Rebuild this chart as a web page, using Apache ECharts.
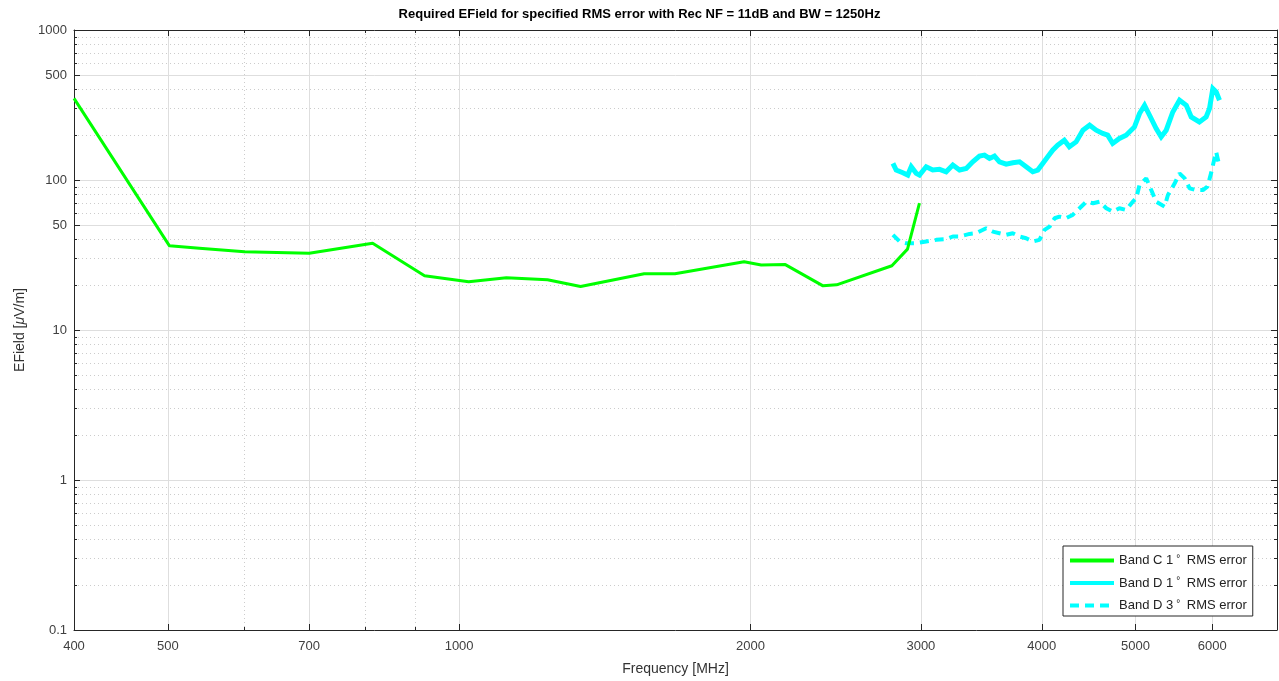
<!DOCTYPE html>
<html><head><meta charset="utf-8">
<script src="https://cdn.jsdelivr.net/npm/echarts@6/dist/echarts.min.js"></script>
<style>html,body{margin:0;padding:0;background:#fff}#c{width:1279px;height:681px}</style>
</head><body><div id="c"></div>
<script>
// ---- data ----
const freqC = [400, 502, 539, 600, 700, 814, 921, 1023, 1119, 1234, 1335, 1553, 1671, 1970, 2052, 2173, 2377, 2455, 2800, 2906, 2990];
const efieldC = [350, 36.4, 35.1, 33.2, 32.5, 37.9, 23.0, 21.0, 22.3, 21.6, 19.5, 23.7, 23.7, 28.5, 27.1, 27.3, 19.7, 20.0, 26.8, 34.6, 70];

const freqD1 = [2807,2829,2874,2908,2932,2967,2990,3038,3086,3136,3186,3237,3289,3342,3394,3449,3490,3532,3574,3617,3675,3733,3794,3854,3915,3962,4009,4057,4105,4154,4220,4271,4340,4411,4482,4553,4624,4679,4735,4811,4889,4987,5047,5108,5169,5251,5314,5378,5463,5551,5641,5708,5820,5914,5961,6009,6057,6105];
const efieldD1 = [129,116.5,111.7,107.9,122.5,110.7,107.9,122.5,116.5,117.7,113.4,125.7,116.5,119.5,132.2,144.2,146.5,139.3,144.2,132.2,127.6,130.2,132.2,122.5,113.4,116.5,129,142.7,158.1,170.7,184.2,166.3,179.5,214.8,231.8,214.8,204.2,199,175.2,189.1,199,225.9,277.3,314.8,270.2,220.4,193.9,214.8,284.2,340,314.8,263.2,243.8,263.2,299.3,406.6,386,340];

const freqD3 = [2807,2852,2897,2967,3038,3112,3186,3237,3289,3368,3421,3504,3560,3617,3675,3733,3794,3854,3915,3978,4026,4075,4124,4171,4236,4305,4376,4447,4519,4590,4663,4735,4811,4889,4967,5008,5047,5128,5190,5251,5357,5400,5488,5551,5620,5686,5770,5868,5932,5983,6033,6057,6105];
const efieldD3 = [43.1,38.9,37.9,37.9,38.9,39.9,40.3,42,42,43.7,44.2,47.7,45.3,44.2,43.1,44.2,42,40.9,38.9,39.9,46.5,48.9,55.6,57,55.6,58.5,64.8,71.7,70,71.7,64.8,61.5,64.8,63.1,71.7,75.5,92.6,102.6,85.7,71.7,66.4,79.4,95,110.7,102.6,88,85.7,85.7,90.2,110.7,139.3,154,122.5];

const xMajorTicks = [400, 500, 700, 1000, 2000, 3000, 4000, 5000, 6000];
const xMinorTicks = [600, 800, 900];
const yMajorTicks = [0.1, 1, 10, 50, 100, 500, 1000];
const yMinorTicks = [0.2,0.3,0.4,0.5,0.6,0.7,0.8,0.9,2,3,4,5,6,7,8,9,20,30,40,60,70,80,90,200,300,400,600,700,800,900];

const seriesNames = ['Band C 1° RMS error', 'Band D 1° RMS error', 'Band D 3° RMS error'];
const titleText = 'Required EField for specified RMS error with Rec NF = 11dB and BW = 1250Hz';
const xName = 'Frequency [MHz]';

// ---- chart ----
const FONT = '"Liberation Sans", Arial, Helvetica, sans-serif';
const AX = '#262626';
const GRID = '#dedede';
const MINOR = '#cccccc';
function pairs(xs, ys) { return xs.map((x, i) => [x, ys[i]]); }
function fmt(v) { return String(+(+v).toPrecision(6)); }

function xAxisDef(position, ticks, len, opts) {
  return Object.assign({
    type: 'log', logBase: 10, min: 400, max: 7000, position: position,
    axisLine: { show: false },
    axisTick: { show: true, inside: true, length: len, customValues: ticks, lineStyle: { color: AX, width: 1 } },
    axisLabel: { show: false },
    splitLine: { show: false },
    minorTick: { show: false }, minorSplitLine: { show: false }
  }, opts || {});
}
function yAxisDef(position, ticks, len, opts) {
  return Object.assign({
    type: 'log', logBase: 10, min: 0.1, max: 1000, position: position,
    axisLine: { show: false },
    axisTick: { show: true, inside: true, length: len, customValues: ticks, lineStyle: { color: AX, width: 1 } },
    axisLabel: { show: false },
    splitLine: { show: false },
    minorTick: { show: false }, minorSplitLine: { show: false }
  }, opts || {});
}

const chart = echarts.init(document.getElementById('c'), null, { renderer: 'canvas' });
chart.setOption({
  animation: false,
  backgroundColor: '#ffffff',
  title: {
    text: titleText, left: 'center', top: 3,
    textStyle: { fontFamily: FONT, fontSize: 13, fontWeight: 'bold', color: '#000' }
  },
  grid: { left: 74, right: 2, top: 30, bottom: 50, containLabel: false },
  legend: {
    orient: 'vertical', left: 1063, top: 546,
    itemWidth: 44, itemHeight: 14, itemGap: 9.5,
    padding: [8, 6, 4, 5],
    backgroundColor: '#fff', borderColor: AX, borderWidth: 1,
    itemStyle: { opacity: 0 },
    lineStyle: { width: 4 },
    formatter: function (name) {
      const i = name.indexOf('°');
      return '{t|' + name.slice(0, i) + '}{s|°}{t| ' + name.slice(i + 1).trim() + '}';
    },
    textStyle: {
      fontFamily: FONT, fontSize: 13, color: '#222',
      rich: {
        t: { fontFamily: FONT, fontSize: 13, color: '#222' },
        s: { fontFamily: FONT, fontSize: 10, color: '#222', verticalAlign: 'top', padding: [0, 3, 0, 3] }
      }
    },
    data: seriesNames
  },
  xAxis: [
    xAxisDef('bottom', xMajorTicks, 6, {
      name: xName, nameLocation: 'middle', nameGap: 32,
      nameTextStyle: { fontFamily: FONT, fontSize: 14, color: '#333' },
      axisLine: { show: true, lineStyle: { color: AX, width: 1 } },
      axisLabel: { show: true, customValues: xMajorTicks, margin: 10, formatter: fmt,
        fontFamily: FONT, fontSize: 13, color: '#404040' },
      splitLine: { show: true, lineStyle: { color: GRID, width: 1 } }
    }),
    xAxisDef('bottom', xMinorTicks, 3, {
      splitLine: { show: true, lineStyle: { color: MINOR, width: 1, type: [1, 3] } }
    }),
    xAxisDef('top', xMajorTicks, 6, { axisLine: { show: true, lineStyle: { color: AX, width: 1 } } }),
    xAxisDef('top', xMinorTicks, 3)
  ],
  yAxis: [
    yAxisDef('left', yMajorTicks, 6, {
      name: 'EField [{mu|μ}V/m]', nameLocation: 'middle', nameGap: 46,
      nameTextStyle: { fontFamily: FONT, fontSize: 14, color: '#333',
        rich: { mu: { fontFamily: FONT, fontSize: 14, fontStyle: 'italic', color: '#333' } } },
      axisLine: { show: true, lineStyle: { color: AX, width: 1 } },
      axisLabel: { show: true, customValues: yMajorTicks, margin: 7, formatter: fmt,
        fontFamily: FONT, fontSize: 13, color: '#404040' },
      splitLine: { show: true, lineStyle: { color: GRID, width: 1 } }
    }),
    yAxisDef('left', yMinorTicks, 3, {
      splitLine: { show: true, lineStyle: { color: MINOR, width: 1, type: [1, 3] } }
    }),
    yAxisDef('right', yMajorTicks, 6, { axisLine: { show: true, lineStyle: { color: AX, width: 1 } } }),
    yAxisDef('right', yMinorTicks, 3)
  ],
  series: [
    { name: seriesNames[0], type: 'line', xAxisIndex: 0, yAxisIndex: 0, symbol: 'none',
      data: pairs(freqC, efieldC), lineStyle: { color: '#00ff00', width: 3 }, itemStyle: { color: '#00ff00' }, z: 3 },
    { name: seriesNames[1], type: 'line', xAxisIndex: 0, yAxisIndex: 0, symbol: 'none',
      data: pairs(freqD1, efieldD1), lineStyle: { color: '#00ffff', width: 5, join: 'miter' }, itemStyle: { color: '#00ffff' }, z: 2 },
    { name: seriesNames[2], type: 'line', xAxisIndex: 0, yAxisIndex: 0, symbol: 'none',
      data: pairs(freqD3, efieldD3), lineStyle: { color: '#00ffff', width: 4, type: [9, 6] }, itemStyle: { color: '#00ffff' }, z: 2 }
  ]
});
</script>
</body></html>
